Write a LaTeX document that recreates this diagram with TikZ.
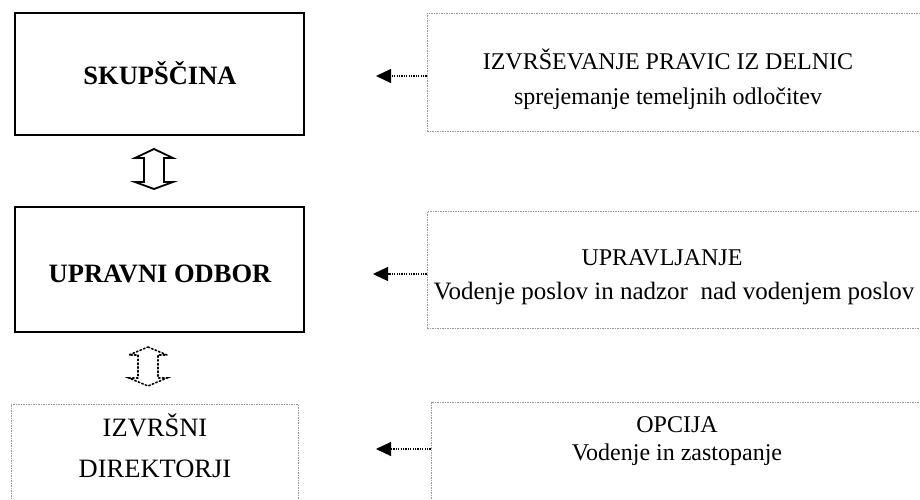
\documentclass[tikz,border=0pt]{standalone}
\usepackage{fontspec}
\setmainfont{Liberation Serif}
\usetikzlibrary{arrows.meta}
\begin{document}
\begin{tikzpicture}[x=1pt,y=-1pt,
  mainbox/.style={draw=black,line width=2.2pt,rectangle,inner sep=0pt},
  sidebox/.style={draw=gray!80,line width=0.8pt,dash pattern=on 1.5pt off 1pt,rectangle,inner sep=0pt},
  txt/.style={font=\fontsize{24}{28}\selectfont,inner sep=0pt,text height=0.7em,text depth=0.2em},
  ltxt/.style={font=\fontsize{26.5}{30}\selectfont,inner sep=0pt,text height=0.7em,text depth=0.2em},
  btxt/.style={font=\fontsize{26.5}{30}\selectfont\bfseries,inner sep=0pt,text height=0.7em,text depth=0.2em},
  link/.style={line width=1.2pt,dash pattern=on 1.2pt off 1.2pt,-{Triangle[length=15pt,width=14pt]}},
  bigarrow/.style={line width=1.8pt,line join=miter},
  dotarrow/.style={line width=1.6pt,dash pattern=on 1.6pt off 2.2pt,line join=miter,line cap=round}
]
\clip (0,0) rectangle (920,499);
\fill[white] (0,0) rectangle (920,499);

% left column
\node[mainbox,minimum width=289pt,minimum height=122pt] (skup) at (159.5,74) {};
\node[btxt] (skupt) at (160,82) {SKUPŠČINA};
\node[mainbox,minimum width=289pt,minimum height=125pt] (upr) at (159.5,269.5) {};
\node[btxt] (uprt) at (160,280) {UPRAVNI ODBOR};
\node[sidebox,minimum width=287pt,minimum height=140pt] (izv) at (154.5,474) {};
\node[ltxt] (izvt1) at (155,434) {IZVRŠNI};
\node[ltxt] (izvt2) at (155,475) {DIREKTORJI};

% right column
\node[sidebox,minimum width=520pt,minimum height=118pt] (r1) at (687,72) {};
\node[txt] (r1a) at (668,67) {IZVRŠEVANJE PRAVIC IZ DELNIC};
\node[txt] (r1b) at (668,102) {sprejemanje temeljnih odločitev};
\node[sidebox,minimum width=520pt,minimum height=117pt] (r2) at (687,269.5) {};
\node[txt] (r2a) at (662,263) {UPRAVLJANJE};
\node[txt,font=\fontsize{25}{28}\selectfont] (r2b) at (674,297) {Vodenje poslov in nadzor\ \ nad vodenjem poslov};
\node[sidebox,minimum width=520pt,minimum height=160pt] (r3) at (691,482) {};
\node[txt] (r3a) at (677,430) {OPCIJA};
\node[txt] (r3b) at (677,458) {Vodenje in zastopanje};

% connectors
\coordinate (e1) at (376,76);
\coordinate (e2) at (373,274);
\coordinate (e3) at (376,449);
\draw[link] (r1.west |- e1) -- (e1);
\draw[link] (r2.west |- e2) -- (e2);
\draw[link] (r3.west |- e3) -- (e3);

% double arrows between boxes
\draw[bigarrow] (154,149) -- (173,158) -- (164,158) -- (164,182) -- (173,182) -- (154,189)
  -- (135,182) -- (144,182) -- (144,158) -- (135,158) -- cycle;
\draw[dotarrow] (148,347) -- (167,355) -- (158,355) -- (158,378) -- (167,378) -- (148,386)
  -- (129,378) -- (138,378) -- (138,355) -- (129,355) -- cycle;
\end{tikzpicture}
\end{document}
